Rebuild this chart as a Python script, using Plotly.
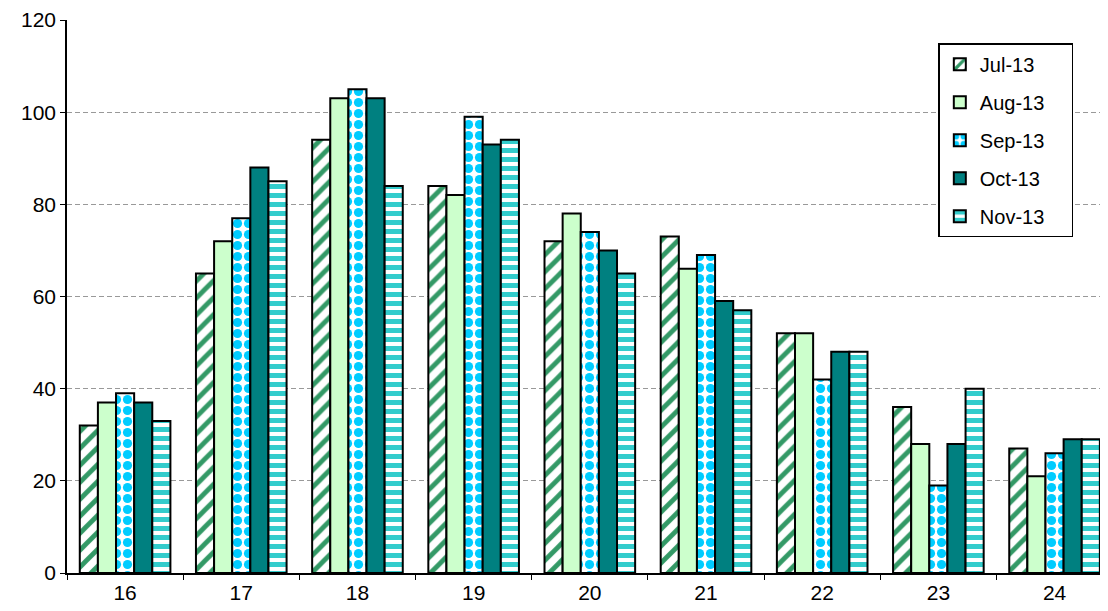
import plotly.graph_objects as go

categories = ["16", "17", "18", "19", "20", "21", "22", "23", "24"]
series_names = ["Jul-13", "Aug-13", "Sep-13", "Oct-13", "Nov-13"]
jul13 = [32, 65, 94, 84, 72, 73, 52, 36, 27]
aug13 = [37, 72, 103, 82, 78, 66, 52, 28, 21]
sep13 = [39, 77, 105, 99, 74, 69, 42, 19, 26]
oct13 = [37, 88, 103, 93, 70, 59, 48, 28, 29]
nov13 = [33, 85, 84, 94, 65, 57, 48, 40, 29]
y_ticks = [0, 20, 40, 60, 80, 100, 120]

series_values = [jul13, aug13, sep13, oct13, nov13]
styles = [
    dict(color="white", pattern=dict(shape="/", fgcolor="#339966", bgcolor="white", fgopacity=1, size=12, solidity=0.4, fillmode="replace")),
    dict(color="#CCFFCC"),
    dict(color="white", pattern=dict(shape=".", fgcolor="#00CCFF", bgcolor="white", fgopacity=1, size=11, solidity=0.55, fillmode="replace")),
    dict(color="#008080"),
    dict(color="white", pattern=dict(shape="-", fgcolor="#33CCCC", bgcolor="white", fgopacity=1, size=9, solidity=0.55, fillmode="replace")),
]

NBSP = "\u00a0"
fig = go.Figure()
for name, vals, st in zip(series_names, series_values, styles):
    marker = dict(color=st["color"], line=dict(color="black", width=2))
    if "pattern" in st:
        marker["pattern"] = st["pattern"]
    fig.add_trace(go.Bar(x=categories, y=vals, name=name + NBSP * 4, marker=marker, legendgroup=name))

font = "Liberation Sans, Arial, sans-serif"
fig.update_layout(
    width=1100, height=603,
    margin=dict(l=59, r=0, t=12, b=38),
    paper_bgcolor="white", plot_bgcolor="white",
    barmode="group", bargap=0.22, bargroupgap=0,
    font=dict(family=font, size=21, color="black"),
    showlegend=True,
    legend=dict(
        x=0.837, y=0.958, xanchor="left", yanchor="top",
        bordercolor="black", borderwidth=1.5, bgcolor="white",
        font=dict(size=20, family=font),
        tracegroupgap=9,
    ),
    xaxis=dict(
        type="category", range=[-0.5, 8.46],
        showline=True, linecolor="black", linewidth=1.5,
        ticks="outside", tickson="boundaries", ticklen=5, tickcolor="black",
        showgrid=False, tickfont=dict(size=21),
    ),
    yaxis=dict(
        range=[0, 120], tickvals=y_ticks, ticksuffix=NBSP * 2,
        showline=True, linecolor="black", linewidth=1.5,
        ticks="outside", ticklen=5, tickcolor="black",
        showgrid=True, gridcolor="#999999", griddash="5px,3px", gridwidth=1,
        zeroline=False, tickfont=dict(size=21),
    ),
)

fig.write_html("out.html")
